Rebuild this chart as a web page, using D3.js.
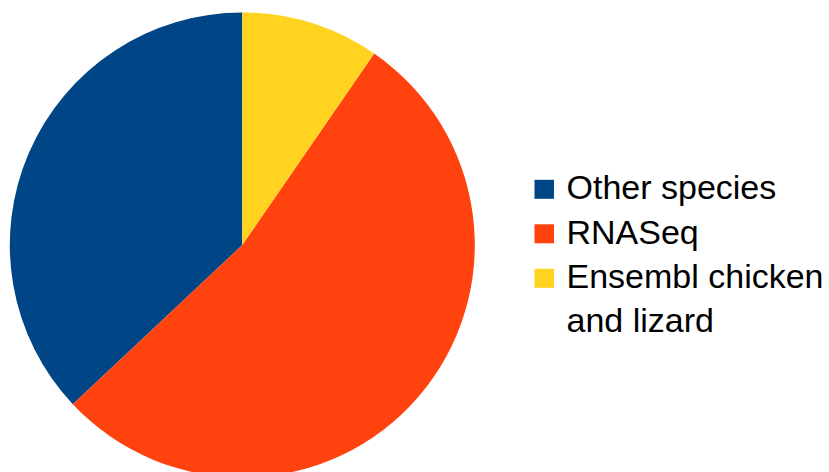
<!DOCTYPE html>
<html>
<head>
<meta charset="utf-8">
<script src="https://d3js.org/d3.v7.min.js"></script>
<style>
  body { margin: 0; background: #ffffff; }
</style>
</head>
<body>
<div id="chart"></div>
<script>
// slice data (legend order), share in percent
var categories = ["Other species", "RNASeq", "Ensembl chicken and lizard"];
var values = [37.0, 53.4, 9.6];
var colors = ["#004586", "#ff420e", "#ffd320"];
// legend labels, wrapped as in the original
var legendLines = [["Other species"], ["RNASeq"], ["Ensembl chicken", "and lizard"]];

var width = 829, height = 472;
var cx = 242.3, cy = 245, radius = 232.5;

var svg = d3.select("#chart")
  .append("svg")
    .attr("width", width)
    .attr("height", height);

var color = d3.scaleOrdinal()
  .domain(categories)
  .range(colors);

// slices run counter-clockwise from 12 o'clock
var pie = d3.pie()
  .sort(null)
  .value(function(d) { return d.value; })
  .startAngle(0)
  .endAngle(-2 * Math.PI);

var arc = d3.arc()
  .innerRadius(0)
  .outerRadius(radius);

var data = categories.map(function(c, i) { return {name: c, value: values[i]}; });

svg.append("g")
    .attr("transform", "translate(" + cx + "," + cy + ")")
  .selectAll("path")
  .data(pie(data))
  .enter()
  .append("path")
    .attr("d", arc)
    .style("fill", function(d) { return color(d.data.name); });

// legend
var legendY = d3.scalePoint()
  .domain(categories)
  .range([199.3, 288.3]);

var legend = svg.append("g");

legend.selectAll("rect")
  .data(categories)
  .enter()
  .append("rect")
    .attr("x", 534.5)
    .attr("y", function(d) { return legendY(d) - 19.5; })
    .attr("width", 19.5)
    .attr("height", 19)
    .style("fill", function(d) { return color(d); });

legend.selectAll("text")
  .data(categories)
  .enter()
  .append("text")
    .attr("x", 566.5)
    .attr("y", function(d) { return legendY(d); })
    .style("font-family", "'Liberation Sans', Arial, sans-serif")
    .style("font-size", "34px")
    .style("fill", "#000000")
  .selectAll("tspan")
  .data(function(d, i) { return legendLines[i]; })
  .enter()
  .append("tspan")
    .attr("x", 566.5)
    .attr("dy", function(d, j) { return j === 0 ? 0 : 43.4; })
    .text(function(d) { return d; });
</script>
</body>
</html>
